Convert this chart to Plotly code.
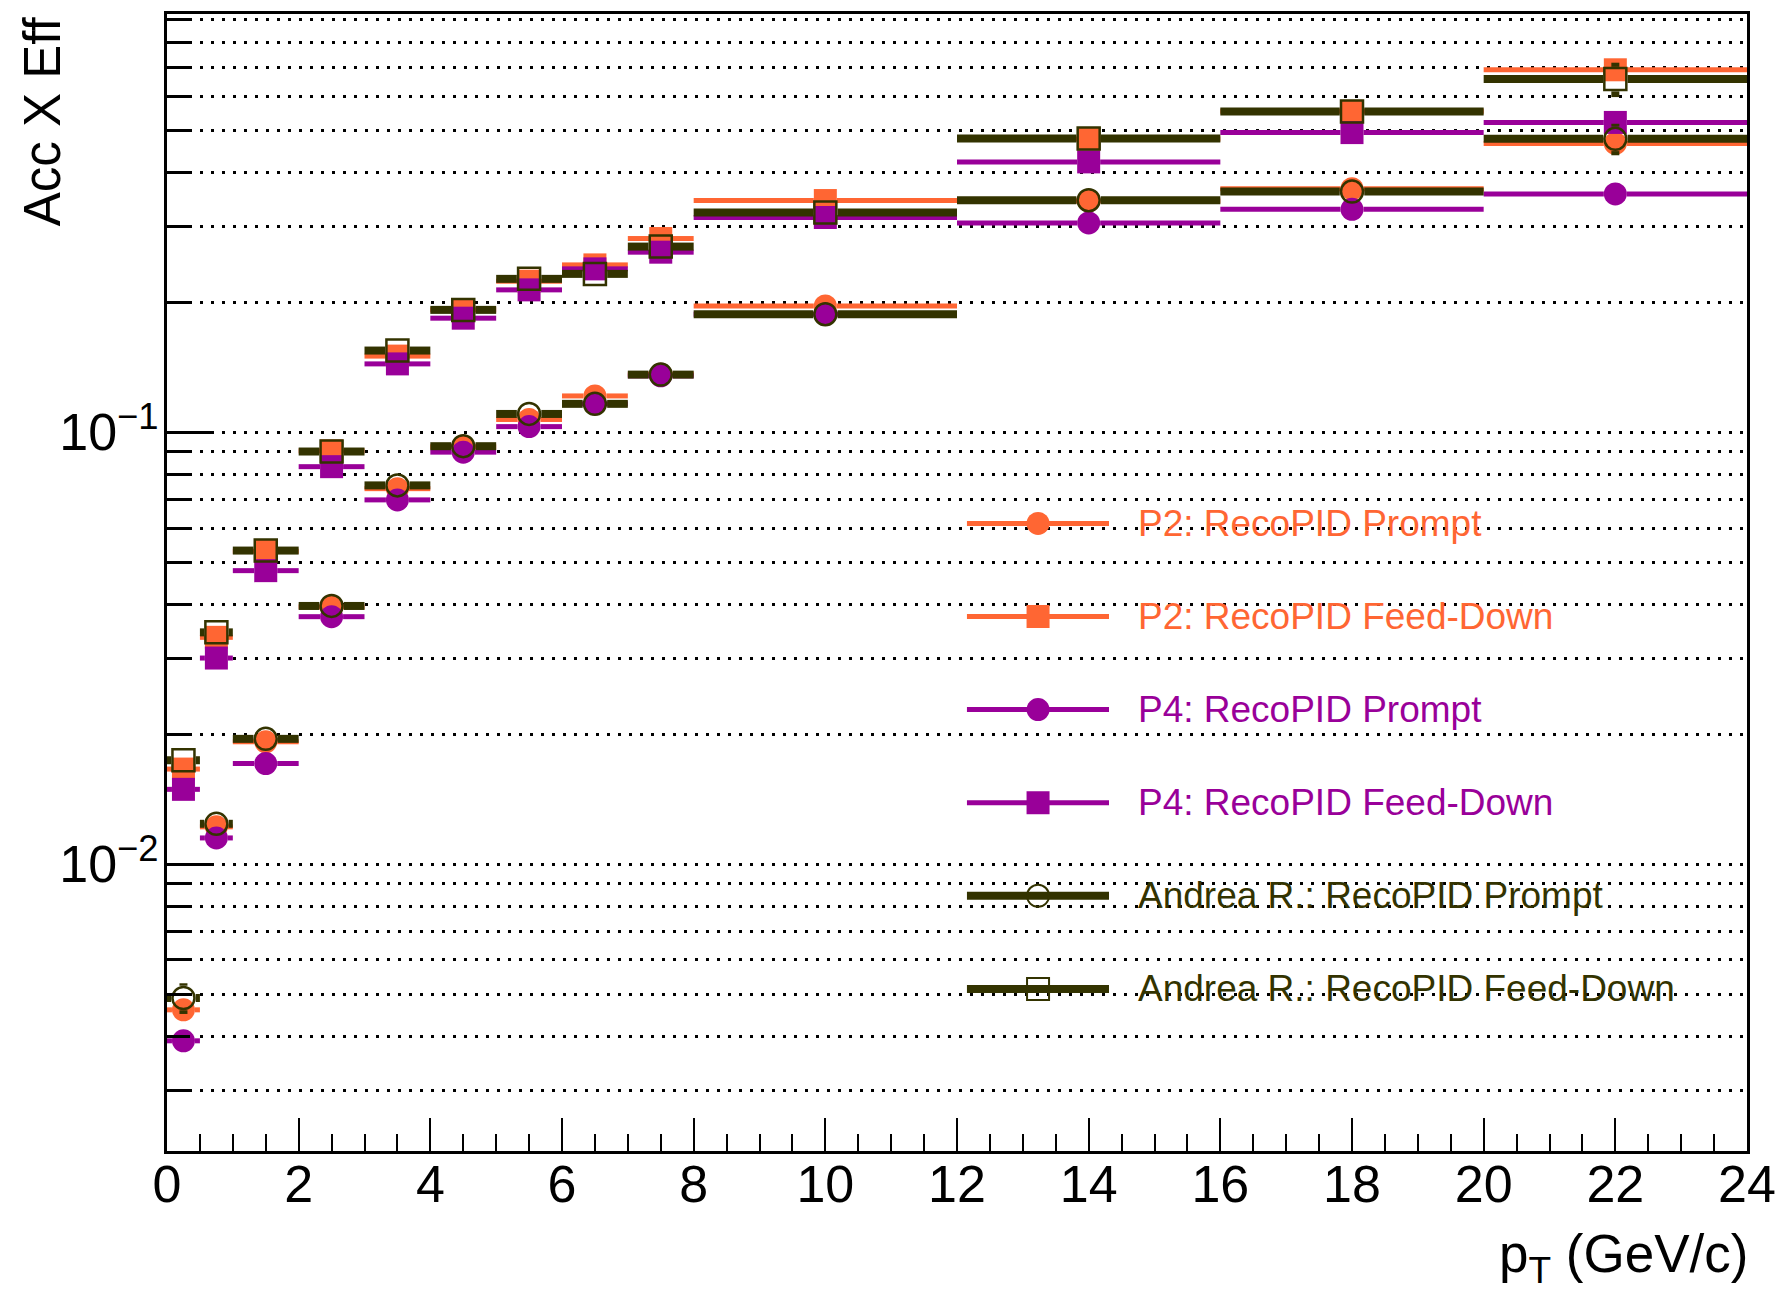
import plotly.graph_objects as go

# --- data -------------------------------------------------------------------
pt_edges = [0, 0.5, 1, 2, 3, 4, 5, 6, 7, 8, 12, 16, 20, 24]
pt_centers = [0.25, 0.75, 1.5, 2.5, 3.5, 4.5, 5.5, 6.5, 7.5, 10, 14, 18, 22]

p2_prompt = [0.0046, 0.0122, 0.0192, 0.0394, 0.0740, 0.0925, 0.1070, 0.1213, 0.1362,
             0.1960, 0.3430, 0.3660, 0.4660]
p2_feeddown = [0.0166, 0.0335, 0.0530, 0.0905, 0.1500, 0.1920, 0.2236, 0.2439, 0.2807,
               0.3437, 0.4770, 0.5530, 0.6900]
p4_prompt = [0.0039, 0.0115, 0.0171, 0.0374, 0.0697, 0.0899, 0.1030, 0.1163, 0.1350,
             0.1875, 0.3050, 0.3281, 0.3561]
p4_feeddown = [0.0149, 0.0300, 0.0478, 0.0832, 0.1439, 0.1836, 0.2135, 0.2388, 0.2610,
               0.3140, 0.4223, 0.4937, 0.5212]
andrea_prompt = [0.0049, 0.0124, 0.0195, 0.0396, 0.0753, 0.0928, 0.1102, 0.1163, 0.1359,
                 0.1875, 0.3443, 0.3606, 0.4775]
andrea_prompt_err = [0.0004, 0.0006, 0.0008, 0.0012, 0.0018, 0.0020, 0.0024, 0.0026, 0.0030,
                     0.0040, 0.0080, 0.0100, 0.0400]
andrea_feeddown = [0.0174, 0.0344, 0.0532, 0.0902, 0.1545, 0.1919, 0.2264, 0.2325, 0.2689,
                   0.3223, 0.4782, 0.5521, 0.6566]
andrea_feeddown_err = [0.0010, 0.0015, 0.0020, 0.0030, 0.0040, 0.0045, 0.0050, 0.0055, 0.0060,
                       0.0070, 0.0150, 0.0200, 0.0600]

x_tick_vals = [0, 2, 4, 6, 8, 10, 12, 14, 16, 18, 20, 22, 24]
y_tick_vals = [0.01, 0.1]
y_tick_text = ["10<sup>\u22122</sup>", "10<sup>\u22121</sup>"]
y_minor_vals = [0.003, 0.004, 0.005, 0.006, 0.007, 0.008, 0.009,
                0.02, 0.03, 0.04, 0.05, 0.06, 0.07, 0.08, 0.09,
                0.2, 0.3, 0.4, 0.5, 0.6, 0.7, 0.8, 0.9]

# --- style / geometry ------------------------------------------------------
ORANGE = "#FF6633"
PURPLE = "#990099"
OLIVE = "#333300"
FONT = "Liberation Sans, Arial, Helvetica, sans-serif"

W, H = 1778, 1292
M_L, M_R, M_T, M_B = 167, 31, 14, 141
X_RANGE = [0, 24]
Y_LOG_RANGE = [-2.664, -0.032]
PX_PER_X = (W - M_L - M_R) / (X_RANGE[1] - X_RANGE[0])
PX_PER_DECADE = (H - M_T - M_B) / (Y_LOG_RANGE[1] - Y_LOG_RANGE[0])

FILLED_SIZE = 23
OPEN_SIZE = 22
OPEN_LINE = 2.5

series = [
    dict(label="P2: RecoPID Prompt", y=p2_prompt, err=None, color=ORANGE,
         symbol="circle", bar=5),
    dict(label="P2: RecoPID Feed-Down", y=p2_feeddown, err=None, color=ORANGE,
         symbol="square", bar=5),
    dict(label="P4: RecoPID Prompt", y=p4_prompt, err=None, color=PURPLE,
         symbol="circle", bar=5),
    dict(label="P4: RecoPID Feed-Down", y=p4_feeddown, err=None, color=PURPLE,
         symbol="square", bar=5),
    dict(label="Andrea R.: RecoPID Prompt", y=andrea_prompt, err=andrea_prompt_err,
         color=OLIVE, symbol="circle-open", bar=8),
    dict(label="Andrea R.: RecoPID Feed-Down", y=andrea_feeddown, err=andrea_feeddown_err,
         color=OLIVE, symbol="square-open", bar=8),
]


def marker_half_px(symbol):
    if symbol.endswith("-open"):
        return (OPEN_SIZE + OPEN_LINE) / 2
    return FILLED_SIZE / 2


def error_segments(values, errors, half_px):
    """Bin-width bars and vertical errors, drawn only outside the marker."""
    xs, ys = [], []
    gap = half_px / PX_PER_X
    for lo, hi, xc, yv in zip(pt_edges[:-1], pt_edges[1:], pt_centers, values):
        if xc - gap > lo:
            xs += [lo, xc - gap, None]
            ys += [yv, yv, None]
        if hi > xc + gap:
            xs += [xc + gap, hi, None]
            ys += [yv, yv, None]
    if errors is not None:
        f = 10 ** (half_px / PX_PER_DECADE)
        for xc, yv, e in zip(pt_centers, values, errors):
            if yv + e > yv * f:
                xs += [xc, xc, None]
                ys += [yv * f, yv + e, None]
            if yv - e < yv / f:
                xs += [xc, xc, None]
                ys += [yv / f, yv - e, None]
    return xs, ys


fig = go.Figure()

for s in series:
    half = marker_half_px(s["symbol"])
    bx, by = error_segments(s["y"], s["err"], half)
    fig.add_trace(go.Scatter(
        x=bx, y=by, mode="lines",
        line=dict(color=s["color"], width=s["bar"]),
        hoverinfo="skip", showlegend=False,
    ))
    is_open = s["symbol"].endswith("-open")
    fig.add_trace(go.Scatter(
        x=pt_centers, y=s["y"], mode="markers", name=s["label"],
        marker=dict(
            symbol=s["symbol"], color=s["color"],
            size=OPEN_SIZE if is_open else FILLED_SIZE,
            line=dict(color=s["color"], width=OPEN_LINE if is_open else 0),
        ),
        showlegend=False,
    ))

# --- legend drawn on an overlay axis spanning the plot area -----------------
LEG_LINE_X = [0.5063, 0.5962]
LEG_MARK_X = 0.5513
LEG_TEXT_X = 0.6136
LEG_Y0 = 0.552
LEG_DY = 0.0819

annotations = []
for i, s in enumerate(series):
    yrow = LEG_Y0 - i * LEG_DY
    is_open = s["symbol"].endswith("-open")
    fig.add_trace(go.Scatter(
        x=LEG_LINE_X, y=[yrow, yrow], mode="lines", xaxis="x2", yaxis="y2",
        line=dict(color=s["color"], width=s["bar"]),
        hoverinfo="skip", showlegend=False,
    ))
    fig.add_trace(go.Scatter(
        x=[LEG_MARK_X], y=[yrow], mode="markers", xaxis="x2", yaxis="y2",
        marker=dict(
            symbol=s["symbol"], color=s["color"],
            size=OPEN_SIZE if is_open else FILLED_SIZE,
            line=dict(color=s["color"], width=2 if is_open else 0),
        ),
        hoverinfo="skip", showlegend=False,
    ))
    annotations.append(dict(
        x=LEG_TEXT_X, y=yrow, xref="paper", yref="paper",
        text=s["label"], showarrow=False, xanchor="left", yanchor="middle",
        font=dict(family=FONT, size=37, color=s["color"]),
    ))

# axis titles
annotations.append(dict(
    x=1.002, y=-0.094, xref="paper", yref="paper",
    text="p<sub>T</sub> (GeV/c)", showarrow=False,
    xanchor="right", yanchor="middle",
    font=dict(family=FONT, size=53, color="black"),
))
annotations.append(dict(
    x=-0.079, y=1.0, xref="paper", yref="paper",
    text="Acc X Eff", showarrow=False, textangle=-90,
    xanchor="center", yanchor="top",
    font=dict(family=FONT, size=51, color="black"),
))

GRID_DASH = "3px,8px"

fig.update_layout(
    width=W, height=H, autosize=False,
    margin=dict(l=M_L, r=M_R, t=M_T, b=M_B, pad=0),
    paper_bgcolor="white", plot_bgcolor="white",
    showlegend=False,
    font=dict(family=FONT, color="black", size=52),
    annotations=annotations,
    xaxis=dict(
        range=X_RANGE, tickmode="array", tickvals=x_tick_vals,
        ticktext=[str(v) for v in x_tick_vals],
        ticks="inside", ticklen=33, tickwidth=2, tickcolor="black",
        showline=True, linecolor="black", linewidth=3, mirror=True,
        showgrid=False, zeroline=False, automargin=False,
        ticklabelstandoff=-14,
        tickfont=dict(family=FONT, size=52, color="black"),
        minor=dict(dtick=0.5, ticks="inside", ticklen=17, tickwidth=2,
                   tickcolor="black", showgrid=False),
    ),
    yaxis=dict(
        type="log", range=Y_LOG_RANGE, tickmode="array",
        tickvals=y_tick_vals, ticktext=y_tick_text,
        ticks="inside", ticklen=47, tickwidth=2.5, tickcolor="black",
        showline=True, linecolor="black", linewidth=3, mirror=True,
        showgrid=True, gridcolor="black", gridwidth=2.5, griddash=GRID_DASH,
        zeroline=False, automargin=False,
        ticklabelstandoff=-5,
        tickfont=dict(family=FONT, size=52, color="black"),
        minor=dict(tickmode="array", tickvals=y_minor_vals, ticks="inside",
                   ticklen=23, tickwidth=2.5, tickcolor="black",
                   showgrid=True, gridcolor="black", gridwidth=2.5,
                   griddash=GRID_DASH),
    ),
    xaxis2=dict(overlaying="x", anchor="y2", range=[0, 1], visible=False),
    yaxis2=dict(overlaying="y", anchor="x2", range=[0, 1], visible=False),
)

fig.write_html("out.html")
